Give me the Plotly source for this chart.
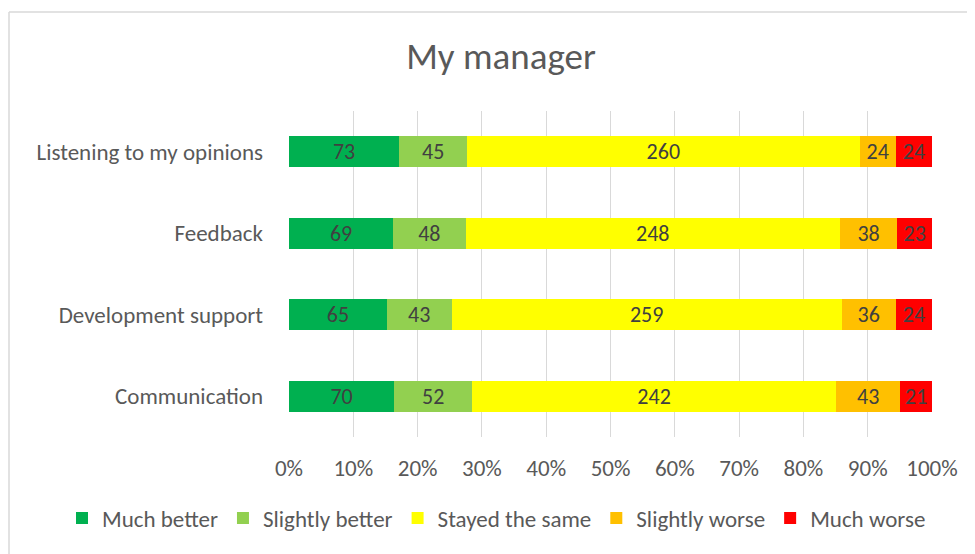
import plotly.graph_objects as go

categories = ["Listening to my opinions", "Feedback", "Development support", "Communication"]
series_names = ["Much better", "Slightly better", "Stayed the same", "Slightly worse", "Much worse"]
much_better = [73, 69, 65, 70]
slightly_better = [45, 48, 43, 52]
stayed_same = [260, 248, 259, 242]
slightly_worse = [24, 38, 36, 43]
much_worse = [24, 23, 24, 21]
colors = ["#00B050", "#92D050", "#FFFF00", "#FFC000", "#FF0000"]
x_ticks = [0, 10, 20, 30, 40, 50, 60, 70, 80, 90, 100]
x_tick_labels = [f"{t}%" for t in x_ticks]

values = [much_better, slightly_better, stayed_same, slightly_worse, much_worse]

FONT = "Carlito, Lato, sans-serif"
FS = 23

fig = go.Figure()
for name, vals, col in zip(series_names, values, colors):
    fig.add_trace(go.Bar(
        y=categories, x=vals, name=name, orientation="h",
        marker=dict(color=col, line=dict(width=0)),
        text=[str(v) for v in vals], texttemplate="%{text}",
        textposition="inside", insidetextanchor="middle", textangle=0,
        textfont=dict(size=22, color="#404040", family=FONT),
        constraintext="none",
        hoverinfo="skip",
    ))

# page offset of 8px (browser body margin)
OFF = 8
W, H = 975 - OFF, 554 - OFF
L, R, T, B = 289, 932, 111, 437  # page pixel positions of plot area
pw, ph = R - L, B - T

def px_x(p):
    return (p - L) / pw

def px_y(p):
    return (B - p) / ph

fig.update_layout(
    width=W, height=H,
    barmode="stack", barnorm="percent", bargap=0.62,
    margin=dict(l=L - OFF, r=W - (R - OFF), t=T - OFF, b=H - (B - OFF), pad=0),
    paper_bgcolor="white", plot_bgcolor="white",
    font=dict(family=FONT, color="#595959"),
    title=dict(text="My manager", font=dict(size=37, color="#595959", family=FONT),
               x=px_x(501), xref="paper", xanchor="center",
               y=1 - (56 - OFF) / H, yref="container", yanchor="middle"),
    xaxis=dict(range=[0, 100], tickvals=x_ticks, ticktext=x_tick_labels,
               showgrid=True, gridcolor="#D9D9D9", gridwidth=1,
               zeroline=False, showline=False,
               tickfont=dict(size=FS, color="#595959", family=FONT),
               ticklabelstandoff=15, fixedrange=True),
    yaxis=dict(categoryorder="array", categoryarray=categories[::-1],
               showgrid=False, zeroline=False, showline=False,
               tickfont=dict(size=FS, color="#595959", family=FONT),
               ticklabelstandoff=25, fixedrange=True),
    legend=dict(orientation="h", x=px_x(62), xanchor="left",
                y=px_y(518), yanchor="middle",
                font=dict(size=FS, color="#595959", family=FONT),
                traceorder="normal", itemwidth=30, tracegroupgap=0),
    shapes=[
        dict(type="line", xref="paper", yref="paper",
             x0=px_x(9), x1=px_x(990), y0=px_y(12), y1=px_y(12),
             line=dict(color="#D9D9D9", width=1.5)),
        dict(type="line", xref="paper", yref="paper",
             x0=px_x(9), x1=px_x(9), y0=px_y(12), y1=px_y(570),
             line=dict(color="#D9D9D9", width=1.5)),
    ],
    showlegend=True,
)

fig.write_html("out.html")
